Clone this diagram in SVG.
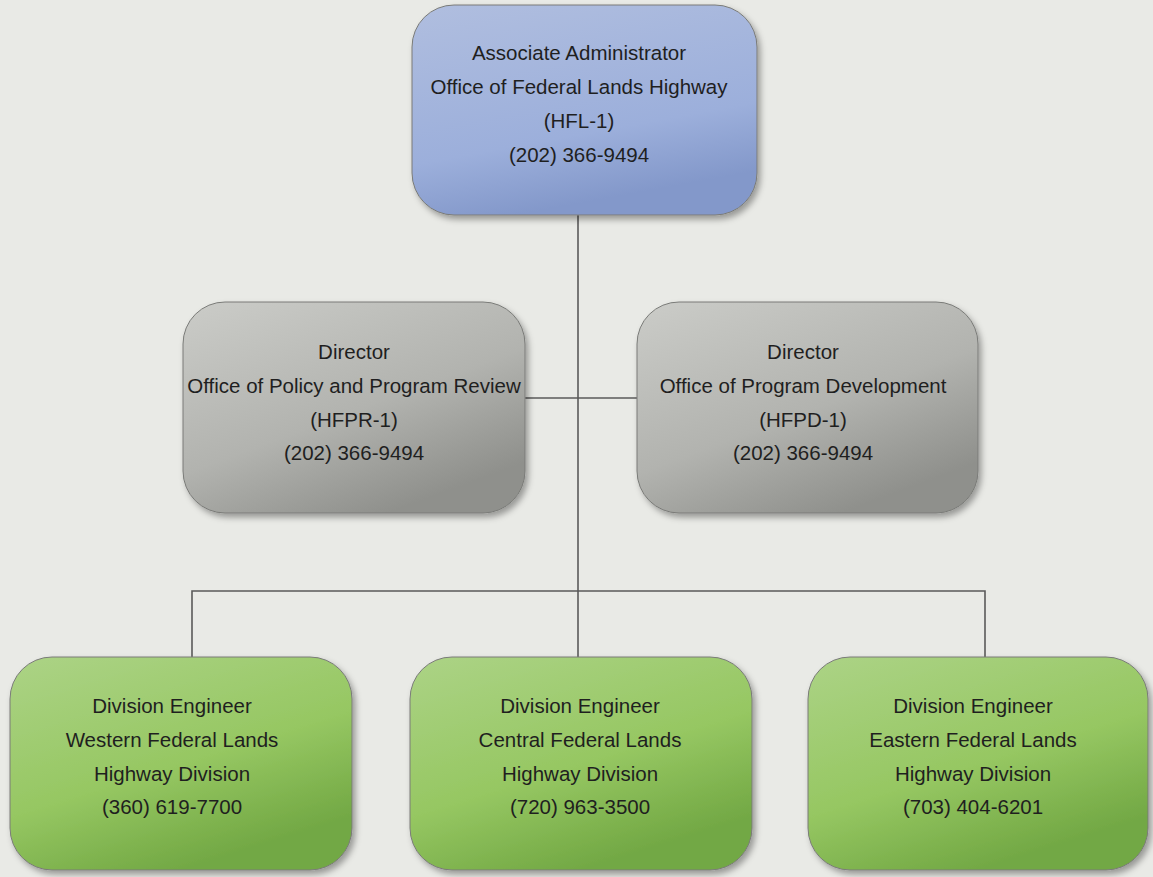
<svg xmlns="http://www.w3.org/2000/svg" width="1153" height="877" viewBox="0 0 1153 877">
<defs>
<linearGradient id="gBlue" x1="0" y1="0" x2="0.3" y2="1">
<stop offset="0" stop-color="#b0bedf"/><stop offset="0.7" stop-color="#9cafdb"/><stop offset="1" stop-color="#8398ca"/>
</linearGradient>
<linearGradient id="gGray" x1="0" y1="0" x2="0.6" y2="1">
<stop offset="0" stop-color="#cbccc8"/><stop offset="0.6" stop-color="#b2b3af"/><stop offset="1" stop-color="#8f908c"/>
</linearGradient>
<linearGradient id="gGreen" x1="0" y1="0" x2="0.5" y2="1">
<stop offset="0" stop-color="#acd386"/><stop offset="0.6" stop-color="#96c762"/><stop offset="1" stop-color="#72a844"/>
</linearGradient>
<filter id="sh" x="-10%" y="-10%" width="125%" height="125%">
<feDropShadow dx="3" dy="4" stdDeviation="3" flood-color="#000" flood-opacity="0.35"/>
</filter>
<style>
.box{stroke:#7a7b78;stroke-width:1;filter:url(#sh)}
.t{font-family:"Liberation Sans",Arial,sans-serif;font-size:20.5px;fill:#1f1f1f;text-anchor:middle}
.c{stroke:#5a5a5a;stroke-width:1.6;fill:none}
</style>
</defs>
<rect width="1153" height="877" fill="#e9eae6"/>
<g id="connectors">
<path class="c" d="M578 215 V657"/>
<path class="c" d="M525 398 H637"/>
<path class="c" d="M192 657 V591 H985 V657"/>
</g>
<g id="hfl1">
<rect class="box" x="412" y="5" width="345" height="210" rx="42" fill="url(#gBlue)"/>
<text class="t" x="579" y="60">Associate Administrator</text>
<text class="t" x="579" y="94">Office of Federal Lands Highway</text>
<text class="t" x="579" y="128">(HFL-1)</text>
<text class="t" x="579" y="162">(202) 366-9494</text>
</g>
<g id="hfpr1">
<rect class="box" x="183" y="302" width="342" height="211" rx="42" fill="url(#gGray)"/>
<text class="t" x="354" y="359">Director</text>
<text class="t" x="354" y="393">Office of Policy and Program Review</text>
<text class="t" x="354" y="427">(HFPR-1)</text>
<text class="t" x="354" y="460">(202) 366-9494</text>
</g>
<g id="hfpd1">
<rect class="box" x="637" y="302" width="341" height="211" rx="42" fill="url(#gGray)"/>
<text class="t" x="803" y="359">Director</text>
<text class="t" x="803" y="393">Office of Program Development</text>
<text class="t" x="803" y="427">(HFPD-1)</text>
<text class="t" x="803" y="460">(202) 366-9494</text>
</g>
<g id="wflhd">
<rect class="box" x="10" y="657" width="342" height="213" rx="42" fill="url(#gGreen)"/>
<text class="t" x="172" y="713">Division Engineer</text>
<text class="t" x="172" y="747">Western Federal Lands</text>
<text class="t" x="172" y="781">Highway Division</text>
<text class="t" x="172" y="814">(360) 619-7700</text>
</g>
<g id="cflhd">
<rect class="box" x="410" y="657" width="342" height="213" rx="42" fill="url(#gGreen)"/>
<text class="t" x="580" y="713">Division Engineer</text>
<text class="t" x="580" y="747">Central Federal Lands</text>
<text class="t" x="580" y="781">Highway Division</text>
<text class="t" x="580" y="814">(720) 963-3500</text>
</g>
<g id="eflhd">
<rect class="box" x="808" y="657" width="340" height="213" rx="42" fill="url(#gGreen)"/>
<text class="t" x="973" y="713">Division Engineer</text>
<text class="t" x="973" y="747">Eastern Federal Lands</text>
<text class="t" x="973" y="781">Highway Division</text>
<text class="t" x="973" y="814">(703) 404-6201</text>
</g>
</svg>
